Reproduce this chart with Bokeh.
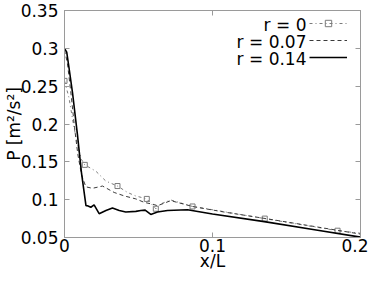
from bokeh.plotting import figure
from bokeh.models import FixedTicker, LinearAxis, Range1d, Label, Legend, LegendItem
from bokeh.embed import file_html
from bokeh.resources import INLINE

# ---- data ----
x_r0 = [0.0, 0.003, 0.006, 0.009, 0.0115, 0.0137, 0.0212, 0.0279, 0.0358, 0.0426,
        0.048, 0.0556, 0.0617, 0.065, 0.0718, 0.0865, 0.103, 0.1353, 0.1845, 0.2]
y_r0 = [0.257, 0.235, 0.200, 0.170, 0.153, 0.146, 0.1376, 0.1246, 0.118, 0.1095,
        0.105, 0.101, 0.088, 0.0944, 0.0996, 0.091, 0.0857, 0.075, 0.059, 0.0556]
marker_idx_r0 = [0, 5, 8, 11, 12, 15, 17, 18]

x_r007 = [0.0, 0.002, 0.0045, 0.0068, 0.009, 0.0115, 0.0144, 0.0189, 0.0257, 0.0336,
          0.0403, 0.0482, 0.0538, 0.0606, 0.0628, 0.0696, 0.0718, 0.0865, 0.108,
          0.136, 0.183, 0.2]
y_r007 = [0.298, 0.280, 0.238, 0.195, 0.160, 0.133, 0.117, 0.115, 0.118, 0.1095,
          0.105, 0.101, 0.0965, 0.0935, 0.092, 0.097, 0.0987, 0.091, 0.0836,
          0.075, 0.060, 0.0545]

x_r014 = [0.0, 0.0015, 0.003, 0.0055, 0.0088, 0.0115, 0.0145, 0.0155, 0.0178, 0.020,
          0.0234, 0.028, 0.0324, 0.037, 0.0414, 0.0482, 0.0516, 0.0545, 0.0583,
          0.0628, 0.0696, 0.0831, 0.1, 0.135, 0.17, 0.2]
y_r014 = [0.300, 0.295, 0.275, 0.240, 0.185, 0.135, 0.092, 0.092, 0.090, 0.093,
          0.0815, 0.0857, 0.089, 0.0857, 0.0836, 0.0845, 0.0857, 0.0862, 0.0805,
          0.0836, 0.0857, 0.0866, 0.081, 0.071, 0.060, 0.0505]

series_labels = ["r = 0", "r = 0.07", "r = 0.14"]
x_ticks = [0.0, 0.1, 0.2]
x_tick_labels = ["0", "0.1", "0.2"]
y_ticks = [0.05, 0.10, 0.15, 0.20, 0.25, 0.30, 0.35]
y_tick_labels = ["0.05", "0.1", "0.15", "0.2", "0.25", "0.3", "0.35"]
x_title = "x/L"
y_title = "P [m\u00b2/s\u00b2]"

FONT = "DejaVu Sans"
FS = "17px"
GRAY = "#9a9a9a"

p = figure(frame_width=296, frame_height=227, output_backend="svg",
           toolbar_location=None,
           x_range=Range1d(0, 0.2), y_range=Range1d(0.05, 0.35),
           min_border_left=58, min_border_right=8, min_border_top=10,
           min_border_bottom=0)
p.grid.visible = False
p.outline_line_color = GRAY
p.background_fill_color = "white"
p.border_fill_color = "white"

def style_axis(ax, ticks, labels, show_labels):
    ax.ticker = FixedTicker(ticks=ticks)
    ax.major_label_overrides = {t: (l if show_labels else "") for t, l in zip(ticks, labels)}
    ax.minor_tick_line_color = None
    ax.major_tick_in = 5
    ax.major_tick_out = 0
    ax.major_tick_line_color = GRAY
    ax.axis_line_color = GRAY
    ax.major_label_text_font = FONT
    ax.major_label_text_font_size = FS if show_labels else "0px"
    ax.major_label_text_color = "black"
    ax.axis_label_text_font = FONT
    ax.axis_label_text_font_size = FS
    ax.axis_label_text_font_style = "normal"
    ax.axis_label_text_color = "black"

xa = p.xaxis[0]
style_axis(xa, x_ticks, x_tick_labels, True)
xa.major_label_standoff = 1
xa.axis_label = x_title
xa.axis_label_standoff = -4

ya = p.yaxis[0]
style_axis(ya, y_ticks, y_tick_labels, True)
ya.major_label_standoff = 6
ya.axis_label = y_title
ya.axis_label_standoff = -6

top_ax = LinearAxis()
style_axis(top_ax, x_ticks, x_tick_labels, False)
top_ax.major_label_standoff = 0
p.add_layout(top_ax, "above")
right_ax = LinearAxis()
style_axis(right_ax, y_ticks, y_tick_labels, False)
right_ax.major_label_standoff = 0
p.add_layout(right_ax, "right")

# ---- series ----
l0 = p.line(x_r0, y_r0, line_color="#7a7a7a", line_width=1, line_dash="3 3 1 3")
m0 = p.scatter([x_r0[i] for i in marker_idx_r0], [y_r0[i] for i in marker_idx_r0],
               marker="square", size=5, fill_color=None, line_color="#7a7a7a",
               line_width=1)
l1 = p.line(x_r007, y_r007, line_color="#3a3a3a", line_width=1, line_dash="4 3")
l2 = p.line(x_r014, y_r014, line_color="black", line_width=1.6)

# ---- legend (gnuplot style: text on the left, sample on the right) ----
legend = Legend(items=[LegendItem(label=" ", renderers=[l0, m0]),
                       LegendItem(label=" ", renderers=[l1]),
                       LegendItem(label=" ", renderers=[l2])],
                location=(245, 172), glyph_width=38, glyph_height=16, spacing=1,
                padding=0, margin=0, label_standoff=0, label_width=1,
                label_text_font_size="8px", border_line_color=None,
                background_fill_color=None, background_fill_alpha=0)
p.add_layout(legend, "center")

# legend texts, right aligned just left of the samples
legend_text_x = 0.1635
row_y = [0.3306, 0.3085, 0.2865]
for lab, ly in zip(series_labels, row_y):
    p.add_layout(Label(x=legend_text_x, y=ly, text=lab, text_align="right",
                       text_baseline="middle", text_font=FONT,
                       text_font_size=FS, text_color="black"))

open("out.html", "w").write(file_html(p, INLINE))
